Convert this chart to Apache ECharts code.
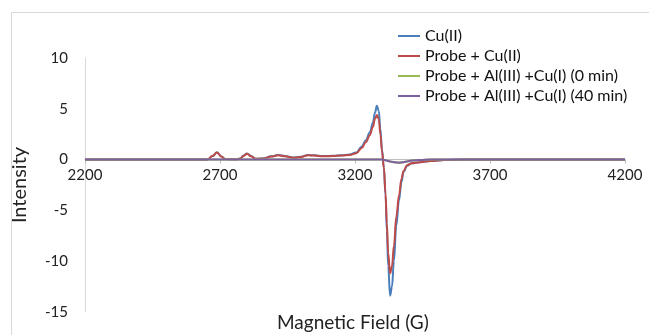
<!DOCTYPE html>
<html>
<head>
<meta charset="utf-8">
<script src="https://cdn.jsdelivr.net/npm/echarts@6/dist/echarts.min.js"></script>
<style>
  html, body { margin: 0; padding: 0; background: #fff; }
  #app { width: 649px; height: 335px; }
</style>
</head>
<body>
<div id="app"></div>
<script>
// magnetic field (G) sample points
const field = [2200, 2640, 2655, 2672, 2689, 2705, 2720, 2760, 2775, 2788, 2800, 2815, 2832, 2860, 2890, 2915, 2940, 2970, 3000, 3026, 3050, 3080, 3120, 3150, 3180, 3205, 3225, 3240, 3255, 3266, 3274, 3281, 3288, 3294, 3300, 3307, 3313, 3318, 3323, 3330, 3337, 3344, 3353, 3363, 3372, 3380, 3393, 3410, 3440, 3480, 3530, 3600, 4200]
const cu2 = [0, 0, 0.02, 0.35, 0.72, 0.3, 0.05, 0.03, 0.1, 0.4, 0.6, 0.35, 0.08, 0.12, 0.32, 0.45, 0.35, 0.2, 0.28, 0.45, 0.42, 0.35, 0.38, 0.42, 0.5, 0.7, 1.3, 1.9, 2.7, 3.6, 4.6, 5.3, 4.8, 3.0, 1.0, -0.8, -3.5, -7, -10.5, -13.4, -12.5, -10, -6.5, -4, -2.2, -1.2, -0.6, -0.35, -0.25, -0.15, -0.05, 0, 0]
const probeCu2 = [0, 0, 0.02, 0.35, 0.7, 0.3, 0.05, 0.03, 0.1, 0.38, 0.58, 0.33, 0.08, 0.1, 0.3, 0.42, 0.32, 0.18, 0.25, 0.42, 0.4, 0.32, 0.35, 0.4, 0.45, 0.62, 1.15, 1.7, 2.4, 3.2, 4.0, 4.4, 4.0, 2.5, 0.8, -0.8, -3.3, -6.3, -9.2, -11.2, -10.5, -8.5, -5.6, -3.5, -1.9, -1.1, -0.55, -0.35, -0.25, -0.15, -0.05, 0, 0]
const probeAl0 = [0, 0, 0, 0, 0, 0, 0, 0, 0, 0, 0, 0, 0, 0, 0, 0, 0, 0, 0, 0, 0, 0, 0, 0, 0, 0, 0, 0, 0, 0, 0, 0, 0, 0, 0, -0.03, -0.06, -0.1, -0.14, -0.18, -0.22, -0.25, -0.28, -0.3, -0.28, -0.25, -0.18, -0.1, -0.04, 0, 0, 0, 0]
const probeAl40 = [0, 0, 0, 0, 0, 0, 0, 0, 0, 0, 0, 0, 0, 0, 0, 0, 0, 0, 0, 0, 0, 0, 0, 0, 0, 0, 0, 0, 0, 0, 0, 0, 0, 0, 0, -0.03, -0.06, -0.1, -0.14, -0.18, -0.22, -0.25, -0.28, -0.3, -0.28, -0.25, -0.18, -0.1, -0.04, 0, 0, 0, 0]

const names = ['Cu(II)', 'Probe + Cu(II)', 'Probe + Al(III) +Cu(I) (0 min)', 'Probe + Al(III) +Cu(I) (40 min)']
const colors = ['#4a7ebb', '#be4b48', '#98b954', '#7d60a0']
const xTicks = [2200, 2700, 3200, 3700, 4200]
const yTicks = [-15, -10, -5, 0, 5, 10]

function pairs(ys) {
  return field.map((x, i) => [x, ys[i]])
}

const myChart = echarts.init(document.getElementById('app'))
const font = 'Lato, "Open Sans", sans-serif'
const gridTop = 58
const gridBottom = 23
const plotH = 335 - gridTop - gridBottom
// distance of y=0 from the bottom of the grid, so the x axis sits on zero
const zeroOffset = plotH * (0 - yTicks[0]) / (yTicks[yTicks.length - 1] - yTicks[0])

function line(name, ys) {
  return {
    name,
    type: 'line',
    symbol: 'none',
    smooth: 0.4,
    smoothMonotone: 'x',
    lineStyle: { width: 2 },
    data: pairs(ys),
  }
}

myChart.setOption({
  animation: false,
  textStyle: { fontFamily: font },
  color: colors,
  graphic: [
    {
      type: 'rect',
      shape: { x: 11.5, y: 12.5, width: 700, height: 400 },
      style: { fill: 'none', stroke: '#d9d9d9', lineWidth: 1 },
      z: -1,
    },
    {
      type: 'text',
      left: 277,
      top: 313,
      style: { text: 'Magnetic Field (G)', fontSize: 19, fill: '#222', fontFamily: font },
    },
  ],
  legend: {
    orient: 'vertical',
    left: 393,
    top: 23,
    icon: 'rect',
    itemWidth: 22,
    itemHeight: 2,
    itemGap: 4,
    textStyle: { fontSize: 16, lineHeight: 16, color: '#111', fontFamily: font },
    data: names,
  },
  grid: {
    left: 85,
    right: 24,
    top: gridTop,
    bottom: gridBottom,
  },
  xAxis: {
    type: 'value',
    min: xTicks[0],
    max: xTicks[xTicks.length - 1],
    interval: 500,
    offset: -zeroOffset,
    axisLine: { onZero: false, lineStyle: { color: '#bfbfbf' } },
    axisTick: { show: true, length: 4, lineStyle: { color: '#bfbfbf' } },
    axisLabel: { fontSize: 15, color: '#222', margin: 8, formatter: (v) => String(v) },
    splitLine: { show: false },
  },
  yAxis: {
    type: 'value',
    min: yTicks[0],
    max: yTicks[yTicks.length - 1],
    interval: 5,
    name: 'Intensity',
    nameLocation: 'middle',
    nameGap: 55,
    nameTextStyle: { fontSize: 20, color: '#222' },
    axisLine: { show: true, lineStyle: { color: '#d9d9d9' } },
    axisTick: { show: false },
    axisLabel: { fontSize: 15, color: '#222', margin: 17 },
    splitLine: { show: false },
  },
  series: [
    line(names[0], cu2),
    line(names[1], probeCu2),
    line(names[2], probeAl0),
    line(names[3], probeAl40),
  ],
})
</script>
</body>
</html>
